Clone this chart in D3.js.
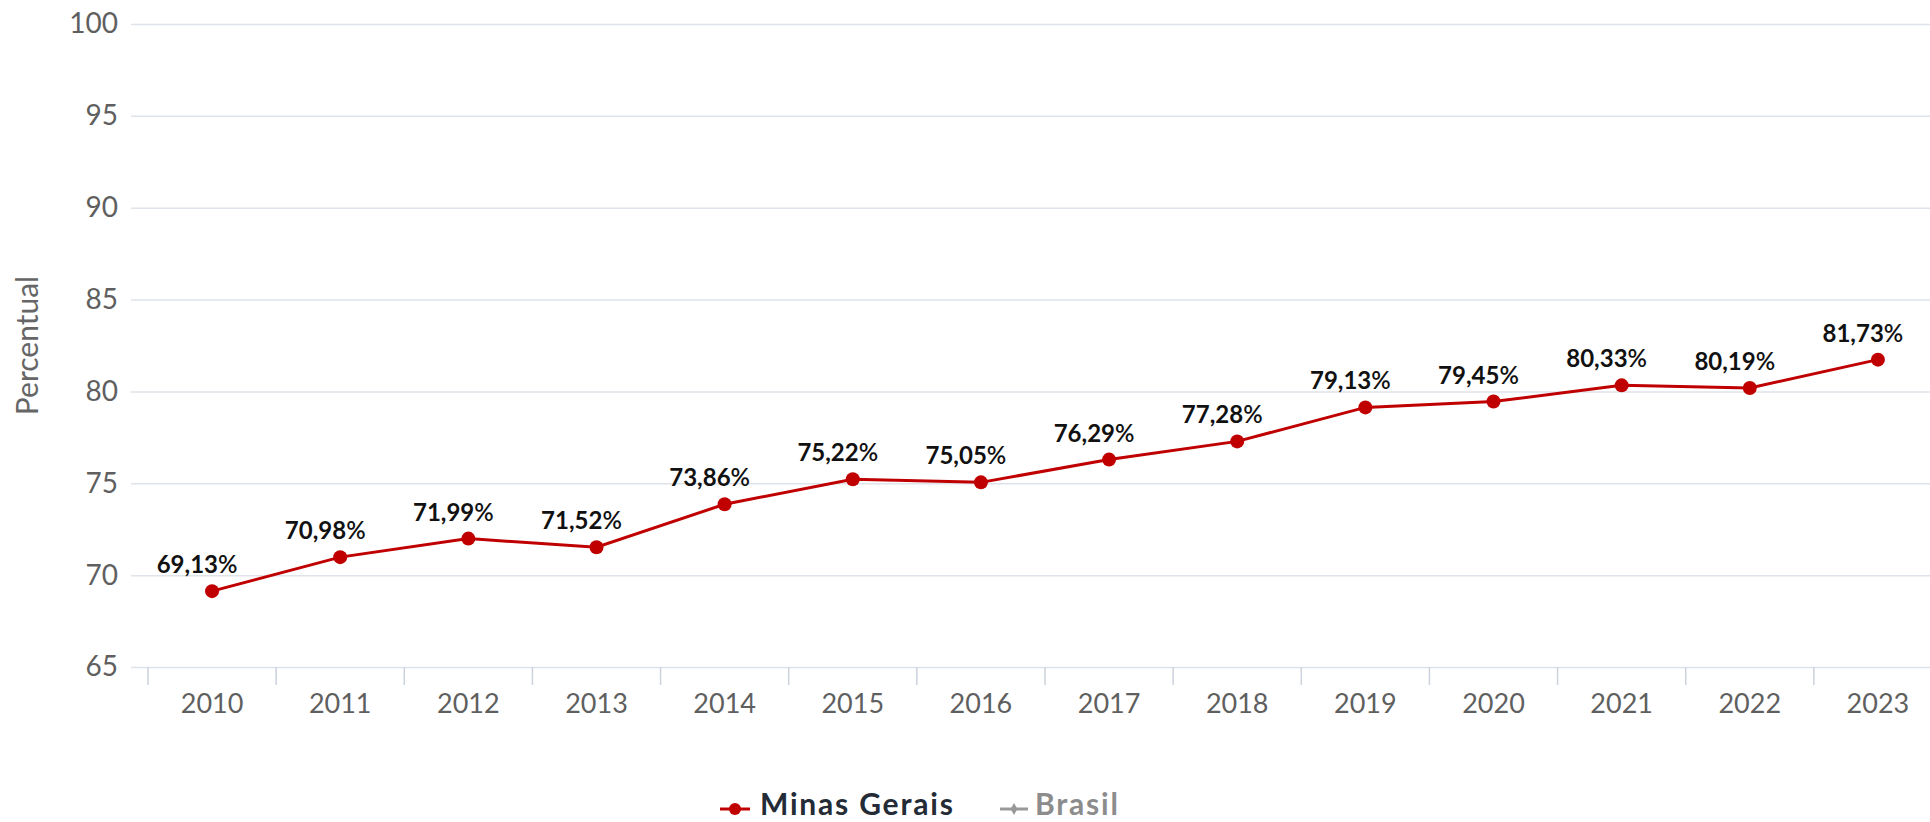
<!DOCTYPE html>
<html>
<head>
<meta charset="utf-8">
<script src="https://cdn.jsdelivr.net/npm/d3@7"></script>
<style>
  body { margin: 0; background: #fff; }
  svg { display: block; font-family: Lato, "Open Sans", sans-serif; }
</style>
</head>
<body>
<div id="chart"></div>
<script>
// ------------------------------------------------------------
// Data
// ------------------------------------------------------------
const years = ["2010", "2011", "2012", "2013", "2014", "2015", "2016",
               "2017", "2018", "2019", "2020", "2021", "2022", "2023"];
const minasGerais = [69.13, 70.98, 71.99, 71.52, 73.86, 75.22, 75.05,
                     76.29, 77.28, 79.13, 79.45, 80.33, 80.19, 81.73];
const yTicks = [65, 70, 75, 80, 85, 90, 95, 100];
const legendItems = ["Minas Gerais", "Brasil"];

// ------------------------------------------------------------
// Dimensions
// ------------------------------------------------------------
const width = 1930;
const height = 822;
const plotLeft = 131;
const bandLeft = 148;
const bandRight = 1942;
const plotTop = 24;
const plotBottom = 667;

const red = "#c00000";
const gridColor = "#dfe3ea";

const svg = d3.select("#chart").append("svg")
    .attr("width", width)
    .attr("height", height);

const x = d3.scaleBand()
    .domain(years)
    .range([bandLeft, bandRight])
    .padding(0);

const y = d3.scaleLinear()
    .domain([65, 100])
    .range([plotBottom, plotTop]);

// gridlines + y labels
const yAxis = svg.append("g")
    .attr("transform", `translate(${plotLeft},0)`)
    .call(d3.axisLeft(y).tickValues(yTicks).tickSize(-(bandRight - plotLeft)).tickPadding(13));
yAxis.select(".domain").remove();
yAxis.selectAll(".tick line").attr("stroke", gridColor).attr("stroke-width", 1.5);
yAxis.selectAll(".tick text")
    .attr("fill", "#5f5f5f")
    .style("font-size", "28px")
    .style("font-family", "Lato, sans-serif");

// x axis ticks (category boundaries)
const xAxis = svg.append("g")
    .attr("transform", `translate(0,${plotBottom})`);
xAxis.selectAll("line")
    .data(years)
    .enter()
    .append("line")
    .attr("x1", d => x(d))
    .attr("x2", d => x(d))
    .attr("y1", 0)
    .attr("y2", 18)
    .attr("stroke", "#ccd3dd")
    .attr("stroke-width", 1.5);
xAxis.selectAll("text")
    .data(years)
    .enter()
    .append("text")
    .attr("x", d => x(d) + x.bandwidth() / 2)
    .attr("y", 46)
    .attr("text-anchor", "middle")
    .attr("fill", "#5f5f5f")
    .style("font-size", "27px")
    .text(d => d);

// y axis title
svg.append("text")
    .attr("transform", `translate(38,${(plotTop + plotBottom) / 2}) rotate(-90)`)
    .attr("text-anchor", "middle")
    .attr("fill", "#666")
    .style("font-size", "30px")
    .text("Percentual");

// ------------------------------------------------------------
// Series
// ------------------------------------------------------------
const points = years.map((yr, i) => ({ year: yr, value: minasGerais[i] }));
const cx = d => x(d.year) + x.bandwidth() / 2;

const line = d3.line()
    .x(cx)
    .y(d => y(d.value));

svg.append("path")
    .datum(points)
    .attr("fill", "none")
    .attr("stroke", red)
    .attr("stroke-width", 3)
    .attr("d", line);

svg.append("g")
    .selectAll("circle")
    .data(points)
    .enter()
    .append("circle")
    .attr("cx", cx)
    .attr("cy", d => y(d.value))
    .attr("r", 7)
    .attr("fill", red);

// data labels
const labels = svg.append("g")
    .selectAll("text")
    .data(points)
    .enter()
    .append("text")
    .attr("x", d => cx(d) - 15)
    .attr("y", d => y(d.value) - 18)
    .attr("text-anchor", "middle")
    .attr("fill", "#111")
    .style("font-size", "24px")
    .style("font-weight", "bold");
labels.append("tspan").text(d => d.value.toFixed(2).replace(".", ","));
labels.append("tspan").style("font-weight", "600").text("%");

// ------------------------------------------------------------
// Legend
// ------------------------------------------------------------
const legend = svg.append("g")
    .style("font-size", "30px")
    .style("font-weight", "bold")
    .style("letter-spacing", "1.8px");
// Minas Gerais
legend.append("line")
    .attr("x1", 720).attr("x2", 750).attr("y1", 809).attr("y2", 809)
    .attr("stroke", red).attr("stroke-width", 3);
legend.append("circle")
    .attr("cx", 735).attr("cy", 809).attr("r", 6).attr("fill", red);
legend.append("text")
    .attr("x", 760).attr("y", 815)
    .attr("fill", "#232b36")
    .text(legendItems[0]);
// Brasil
legend.append("line")
    .attr("x1", 1000).attr("x2", 1028).attr("y1", 809).attr("y2", 809)
    .attr("stroke", "#999").attr("stroke-width", 3);
legend.append("path")
    .attr("d", d3.symbol().type(d3.symbolDiamond).size(40)())
    .attr("transform", "translate(1014,809)")
    .attr("fill", "#999");
legend.append("text")
    .attr("x", 1035).attr("y", 815)
    .attr("fill", "#8c8c8c")
    .text(legendItems[1]);
</script>
</body>
</html>
